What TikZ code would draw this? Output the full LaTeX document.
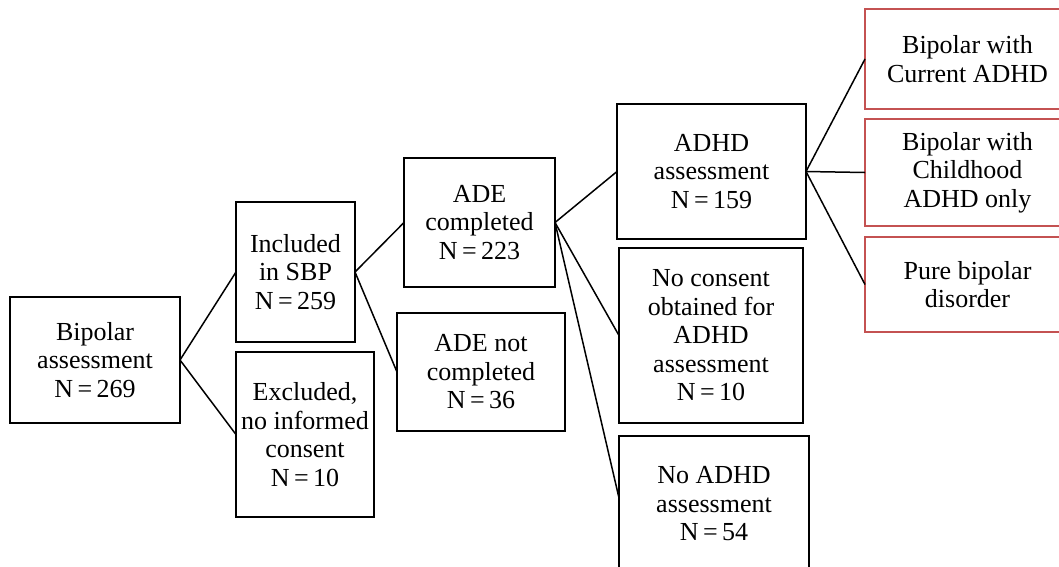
\documentclass[tikz,border=0pt]{standalone}
\usepackage{fontspec}
\setmainfont{Liberation Serif}
\definecolor{boxred}{RGB}{196,82,82}
\tikzset{
  box/.style={draw=black, line width=1.5pt, inner sep=0pt, outer sep=0pt, align=center,
    font=\fontsize{26}{28.5}\selectfont},
  redbox/.style={draw=boxred, line width=1.5pt, inner sep=0pt, outer sep=0pt,
    minimum width=240pt, anchor=west},
  label/.style={inner sep=0pt, align=center, font=\fontsize{26}{28.5}\selectfont},
  conn/.style={draw=black, line width=1.5pt}
}
\begin{document}
\begin{tikzpicture}[x=1pt,y=-1pt]
\useasboundingbox (0,0) rectangle (1059,566);
\node[box, minimum width=170pt, minimum height=126pt] (bip) at (95,360) {Bipolar\\assessment\\N\,=\,269};
\node[box, minimum width=119pt, minimum height=140pt] (incl) at (295.5,272) {Included\\in SBP\\N\,=\,259};
\node[box, minimum width=138pt, minimum height=165pt] (excl) at (305,434.5) {Excluded,\\no informed\\consent\\N\,=\,10};
\node[box, minimum width=151pt, minimum height=129pt] (adec) at (479.5,222.5) {ADE\\completed\\N\,=\,223};
\node[box, minimum width=168pt, minimum height=118pt] (adenc) at (481,372) {ADE not\\completed\\N\,=\,36};
\node[box, minimum width=189pt, minimum height=135pt] (adhd) at (711.5,171.5) {ADHD\\assessment\\N\,=\,159};
\node[box, minimum width=184pt, minimum height=175pt] (nocons) at (711,335.5) {No consent\\obtained for\\ADHD\\assessment\\N\,=\,10};
\node[box, minimum width=190pt, minimum height=136pt] (noadhd) at (714,504) {No ADHD\\assessment\\N\,=\,54};
\node[redbox, minimum height=100pt] (cur) at (865,59) {};
\node[redbox, minimum height=107pt] (child) at (865,172.5) {};
\node[redbox, minimum height=95pt] (pure) at (865,284.5) {};
\node[label] (curt) at (967.5,59) {Bipolar with\\Current ADHD};
\node[label] (childt) at (967.5,172.5) {Bipolar with\\Childhood\\ADHD only};
\node[label] (puret) at (967.5,284.5) {Pure bipolar\\disorder};
\draw[conn] (incl.west) -- (bip.east) -- (excl.west);
\draw[conn] (adec.west) -- (incl.east) -- (adenc.west);
\draw[conn] (adhd.west) -- (adec.east) -- (nocons.west);
\draw[conn] (adec.east) -- ([yshift=6pt]noadhd.west);
\draw[conn] (adhd.east) -- (cur.west);
\draw[conn] (adhd.east) -- (child.west);
\draw[conn] (adhd.east) -- (pure.west);
\end{tikzpicture}
\end{document}
